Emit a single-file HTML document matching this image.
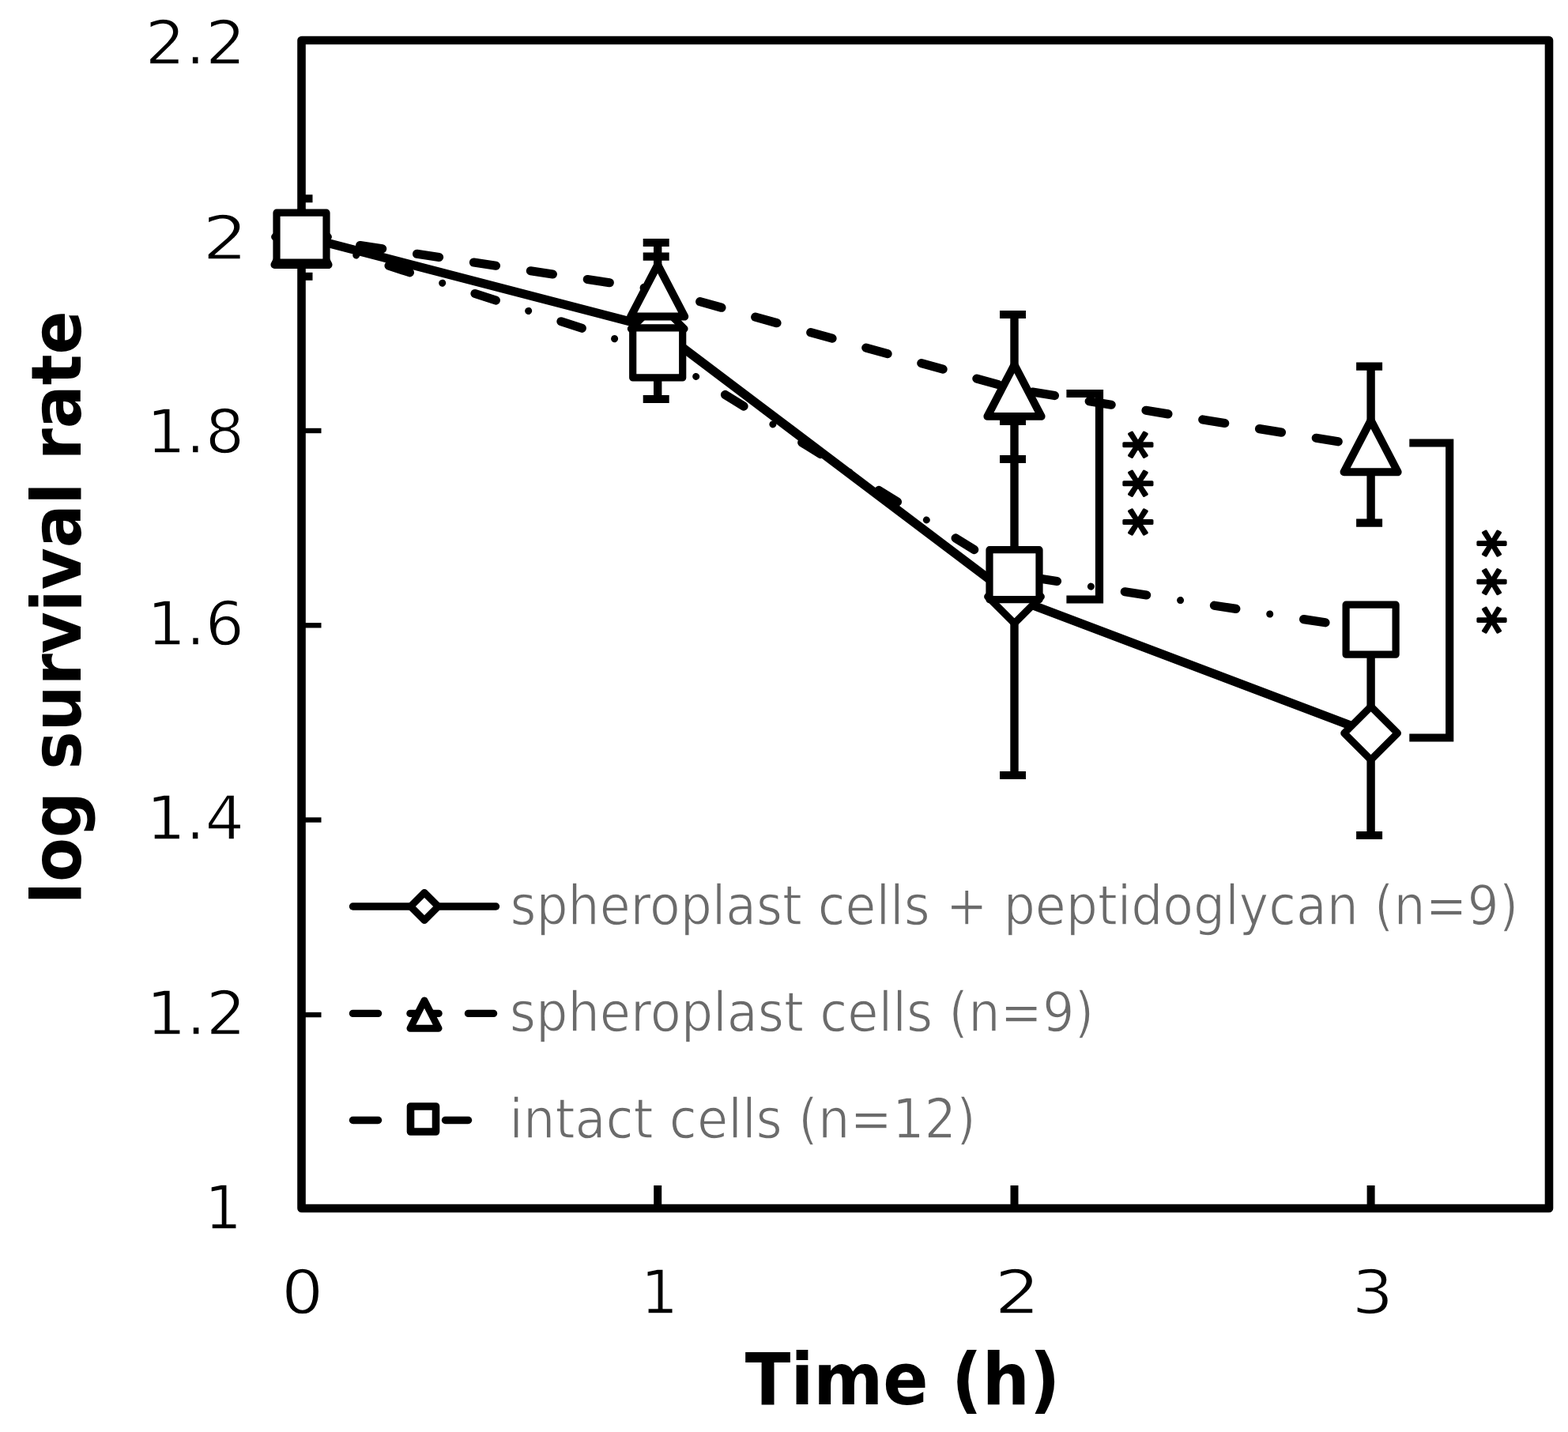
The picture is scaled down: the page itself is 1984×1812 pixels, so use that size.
<!DOCTYPE html>
<html><head><meta charset="utf-8"><title>log survival rate vs time</title>
<style>
html,body{margin:0;padding:0;background:#fff;}
svg{display:block;}
.tl{font-family:"DejaVu Sans","Liberation Sans",sans-serif;font-size:76px;fill:#000;stroke:#fff;stroke-width:1.5px;}
.ti{font-family:"DejaVu Sans","Liberation Sans",sans-serif;font-weight:bold;font-stretch:condensed;font-size:92px;fill:#000;}
.lg{font-family:"DejaVu Sans","Liberation Sans",sans-serif;font-stretch:condensed;font-size:70px;fill:#6b6b6b;stroke:#fff;stroke-width:1.3px;}
.ast{font-family:"DejaVu Sans","Liberation Sans",sans-serif;font-size:80px;letter-spacing:15px;fill:#000;stroke:#000;stroke-width:3.4px;stroke-linejoin:round;}
</style></head>
<body>
<svg width="1984" height="1812" viewBox="0 0 1984 1812">
<defs><clipPath id="pa"><rect x="386" y="55" width="1570" height="1470"/></clipPath></defs>
<rect width="1984" height="1812" fill="#fff"/>
<rect x="381.5" y="51.0" width="1578.5" height="1478.0" fill="none" stroke="#000" stroke-width="10.6" stroke-linejoin="round"/>
<line x1="381.5" y1="298.5" x2="406.5" y2="298.5" stroke="#000" stroke-width="6.4" stroke-linecap="butt"/>
<line x1="381.5" y1="545.0" x2="406.5" y2="545.0" stroke="#000" stroke-width="6.4" stroke-linecap="butt"/>
<line x1="381.5" y1="791.3" x2="406.5" y2="791.3" stroke="#000" stroke-width="6.4" stroke-linecap="butt"/>
<line x1="381.5" y1="1037.5" x2="406.5" y2="1037.5" stroke="#000" stroke-width="6.4" stroke-linecap="butt"/>
<line x1="381.5" y1="1284.1" x2="406.5" y2="1284.1" stroke="#000" stroke-width="6.4" stroke-linecap="butt"/>
<line x1="832.2" y1="1500.0" x2="832.2" y2="1529.0" stroke="#000" stroke-width="10.0" stroke-linecap="butt"/>
<line x1="1283.5" y1="1500.0" x2="1283.5" y2="1529.0" stroke="#000" stroke-width="10.0" stroke-linecap="butt"/>
<line x1="1734.6" y1="1500.0" x2="1734.6" y2="1529.0" stroke="#000" stroke-width="10.0" stroke-linecap="butt"/>
<g clip-path="url(#pa)">
<polyline points="381.5,298.8 832.2,416.0 1283.5,757.0 1734.6,927.8" fill="none" stroke="#000" stroke-width="11.2" stroke-linejoin="round" stroke-linecap="round"/>
<polyline points="381.5,299.5 832.2,366.8 1283.5,492.3 1734.6,565.5" fill="none" stroke="#000" stroke-width="11.2" stroke-linejoin="round" stroke-linecap="round" stroke-dasharray="28.3 44.4" stroke-dashoffset="70.40"/>
<polyline points="381.5,300.5 832.2,446.3 1283.5,727.2 1734.6,796.7" fill="none" stroke="#000" stroke-width="11.2" stroke-linejoin="round" stroke-linecap="round" stroke-dasharray="27.7 86.8" stroke-dashoffset="112.80"/>
<polyline points="381.5,300.5 832.2,446.3 1283.5,727.2 1734.6,796.7" fill="none" stroke="#000" stroke-width="9.0" stroke-linejoin="round" stroke-linecap="round" stroke-dasharray="0.01 114.49" stroke-dashoffset="41.70"/>
<line x1="832.2" y1="307.0" x2="832.2" y2="505.0" stroke="#000" stroke-width="10.4" stroke-linecap="butt"/>
<line x1="813.7" y1="307.0" x2="846.7" y2="307.0" stroke="#000" stroke-width="10.2" stroke-linecap="butt"/>
<line x1="813.7" y1="324.7" x2="846.7" y2="324.7" stroke="#000" stroke-width="10.2" stroke-linecap="butt"/>
<line x1="813.7" y1="505.0" x2="846.7" y2="505.0" stroke="#000" stroke-width="10.2" stroke-linecap="butt"/>
<line x1="1283.5" y1="398.0" x2="1283.5" y2="981.0" stroke="#000" stroke-width="10.4" stroke-linecap="butt"/>
<line x1="1265.0" y1="398.0" x2="1298.0" y2="398.0" stroke="#000" stroke-width="10.2" stroke-linecap="butt"/>
<line x1="1265.0" y1="533.0" x2="1298.0" y2="533.0" stroke="#000" stroke-width="10.2" stroke-linecap="butt"/>
<line x1="1265.0" y1="581.0" x2="1298.0" y2="581.0" stroke="#000" stroke-width="10.2" stroke-linecap="butt"/>
<line x1="1265.0" y1="981.0" x2="1298.0" y2="981.0" stroke="#000" stroke-width="10.2" stroke-linecap="butt"/>
<line x1="1734.6" y1="463.7" x2="1734.6" y2="661.6" stroke="#000" stroke-width="10.4" stroke-linecap="butt"/>
<line x1="1716.1" y1="463.7" x2="1749.1" y2="463.7" stroke="#000" stroke-width="10.2" stroke-linecap="butt"/>
<line x1="1716.1" y1="661.6" x2="1749.1" y2="661.6" stroke="#000" stroke-width="10.2" stroke-linecap="butt"/>
<line x1="1734.6" y1="798.0" x2="1734.6" y2="1057.0" stroke="#000" stroke-width="10.4" stroke-linecap="butt"/>
<line x1="1716.1" y1="1057.0" x2="1749.1" y2="1057.0" stroke="#000" stroke-width="10.2" stroke-linecap="butt"/>
</g>
<line x1="381.5" y1="251.3" x2="395.5" y2="251.3" stroke="#000" stroke-width="10.0" stroke-linecap="butt"/>
<line x1="381.5" y1="349.8" x2="395.5" y2="349.8" stroke="#000" stroke-width="10.0" stroke-linecap="butt"/>
<polygon points="381.5,266.0 415.3,299.8 381.5,333.6 347.7,299.8" fill="#fff" stroke="#000" stroke-width="9.2" stroke-linejoin="round"/>
<polygon points="381.5,269.6 415.6,335.0 347.4,335.0" fill="#fff" stroke="#000" stroke-width="9.9" stroke-linejoin="round"/>
<rect x="350.0" y="269.2" width="63.0" height="63.0" fill="#fff" stroke="#000" stroke-width="9.2" stroke-linejoin="round"/>
<polygon points="832.2,382.2 866.0,416.0 832.2,449.8 798.4,416.0" fill="#fff" stroke="#000" stroke-width="9.2" stroke-linejoin="round"/>
<polygon points="832.2,335.1 866.3,400.5 798.1,400.5" fill="#fff" stroke="#000" stroke-width="9.9" stroke-linejoin="round"/>
<rect x="800.7" y="414.9" width="63.0" height="63.0" fill="#fff" stroke="#000" stroke-width="9.2" stroke-linejoin="round"/>
<polygon points="1283.5,721.2 1317.3,755.0 1283.5,788.8 1249.7,755.0" fill="#fff" stroke="#000" stroke-width="9.2" stroke-linejoin="round"/>
<polygon points="1283.5,461.5 1317.6,526.9 1249.4,526.9" fill="#fff" stroke="#000" stroke-width="9.9" stroke-linejoin="round"/>
<rect x="1252.0" y="695.7" width="63.0" height="63.0" fill="#fff" stroke="#000" stroke-width="9.2" stroke-linejoin="round"/>
<polygon points="1734.6,894.0 1768.4,927.8 1734.6,961.6 1700.8,927.8" fill="#fff" stroke="#000" stroke-width="9.2" stroke-linejoin="round"/>
<polygon points="1734.6,531.9 1768.7,597.3 1700.5,597.3" fill="#fff" stroke="#000" stroke-width="9.9" stroke-linejoin="round"/>
<rect x="1703.1" y="765.2" width="63.0" height="63.0" fill="#fff" stroke="#000" stroke-width="9.2" stroke-linejoin="round"/>
<polyline points="1349.4,498.0 1391.0,498.0 1391.0,758.5 1349.4,758.5" fill="none" stroke="#000" stroke-width="10.2" stroke-linejoin="miter" stroke-linecap="butt"/>
<polyline points="1783.3,560.5 1834.2,560.5 1834.2,933.5 1783.3,933.5" fill="none" stroke="#000" stroke-width="10.2" stroke-linejoin="miter" stroke-linecap="butt"/>
<line x1="446.5" y1="1147.0" x2="627.5" y2="1147.0" stroke="#000" stroke-width="9.4" stroke-linecap="round"/>
<polygon points="537.0,1129.5 554.5,1147.0 537.0,1164.5 519.5,1147.0" fill="#fff" stroke="#000" stroke-width="9.0" stroke-linejoin="round"/>
<line x1="446.5" y1="1282.4" x2="478.5" y2="1282.4" stroke="#000" stroke-width="9.4" stroke-linecap="round"/>
<line x1="592.5" y1="1282.4" x2="624.5" y2="1282.4" stroke="#000" stroke-width="9.4" stroke-linecap="round"/>
<line x1="519.0" y1="1282.4" x2="555.0" y2="1282.4" stroke="#000" stroke-width="9.4" stroke-linecap="round"/>
<polygon points="537.0,1266.0 555.0,1301.2 519.0,1301.2" fill="#fff" stroke="#000" stroke-width="9.0" stroke-linejoin="round"/>
<line x1="446.5" y1="1417.5" x2="478.5" y2="1417.5" stroke="#000" stroke-width="9.4" stroke-linecap="round"/>
<line x1="563.5" y1="1417.5" x2="592.5" y2="1417.5" stroke="#000" stroke-width="9.4" stroke-linecap="round"/>
<rect x="519.5" y="1400.0" width="32.0" height="32.0" fill="#fff" stroke="#000" stroke-width="9.6" stroke-linejoin="round"/>
<text transform="translate(183.57,81.05) scale(1.0551,1.0000)" class="tl">2.2</text>
<text transform="translate(256.29,327.80) scale(1.1853,1.0000)" class="tl">2</text>
<text transform="translate(185.48,572.60) scale(1.0245,1.0000)" class="tl">1.8</text>
<text transform="translate(186.04,815.85) scale(1.0179,1.0000)" class="tl">1.6</text>
<text transform="translate(185.17,1062.10) scale(1.0252,1.0000)" class="tl">1.4</text>
<text transform="translate(184.98,1308.85) scale(1.0462,1.0000)" class="tl">1.2</text>
<text transform="translate(258.80,1554.70) scale(0.9781,1.0000)" class="tl">1</text>
<text transform="translate(355.98,1662.10) scale(1.1027,1.0000)" class="tl">0</text>
<text transform="translate(810.51,1662.00) scale(0.9875,1.0000)" class="tl">1</text>
<text transform="translate(1258.20,1662.40) scale(1.2000,1.0000)" class="tl">2</text>
<text transform="translate(1710.47,1661.90) scale(1.0889,1.0000)" class="tl">3</text>
<text transform="translate(942.80,1777.20) scale(1.0206,0.9810)" class="ti">Time (h)</text>
<text transform="translate(101.80,1143.88) rotate(-90) scale(0.9827,0.9550)" class="ti">log survival rate</text>
<text transform="translate(645.48,1169.50) scale(1.0040,1.0000)" class="lg">spheroplast cells + peptidoglycan (n=9)</text>
<text transform="translate(644.75,1305.00) scale(1.0121,1.0000)" class="lg">spheroplast cells (n=9)</text>
<text transform="translate(644.21,1440.40) scale(1.0132,1.0000)" class="lg">intact cells (n=12)</text>
<text transform="translate(1399.53,545.11) rotate(90) scale(0.8878,0.9750)" class="ast">***</text>
<text transform="translate(1847.68,670.12) rotate(90) scale(0.8818,0.9675)" class="ast">***</text>
</svg>
</body></html>
